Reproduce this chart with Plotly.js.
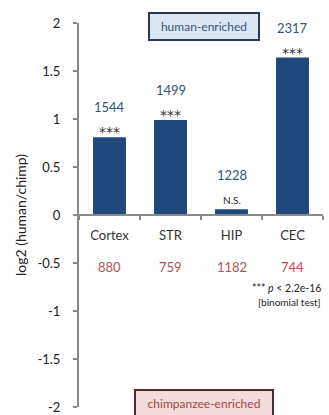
<!DOCTYPE html>
<html><head><meta charset="utf-8">
<script src="https://cdn.plot.ly/plotly-3.0.1.min.js"></script>
<style>html,body{margin:0;padding:0;background:#fff}#chart{width:329px;height:415px}</style>
</head><body><div id="chart"></div>
<script>
const categories = ["Cortex", "STR", "HIP", "CEC"];
const log2Ratio = [0.81, 0.99, 0.06, 1.64];
const humanCounts = [1544, 1499, 1228, 2317];
const chimpCounts = [880, 759, 1182, 744];
const significance = ["***", "***", "N.S.", "***"];
const yTicks = [-2, -1.5, -1, -0.5, 0, 0.5, 1, 1.5, 2];

const FONT = "Lato, 'Open Sans', sans-serif";
const annotations = [];
categories.forEach((c, i) => {
  const ns = significance[i] === 'N.S.';
  annotations.push({x: c, y: log2Ratio[i], xref: 'x', yref: 'y', text: significance[i],
    showarrow: false, yanchor: ns ? 'bottom' : 'middle', yshift: ns ? 1 : 5,
    font: ns ? {family: FONT, size: 10, color: '#222'} : {family: "'DejaVu Sans', sans-serif", size: 14, color: '#333'}});
  annotations.push({x: c, y: log2Ratio[i], xref: 'x', yref: 'y', text: String(humanCounts[i]),
    showarrow: false, yanchor: 'bottom', yshift: ns ? 24 : 20,
    font: {family: FONT, size: 13, color: '#2f5580'}});
  annotations.push({x: c, y: -0.54, xref: 'x', yref: 'y', text: String(chimpCounts[i]),
    showarrow: false, yanchor: 'middle',
    font: {family: FONT, size: 13, color: '#b5504f'}});
});
annotations.push({x: 1, xref: 'paper', y: 0.31, yref: 'paper', xanchor: 'right', yanchor: 'middle',
  text: '*** <i>p</i> < 2.2e-16', showarrow: false, font: {family: FONT, size: 10.5, color: '#222'}});
annotations.push({x: 1.0, xref: 'paper', y: 0.273, yref: 'paper', xanchor: 'right', yanchor: 'middle',
  text: '[binomial test]', showarrow: false, font: {family: FONT, size: 10, color: '#222'}});
annotations.push({x: 0.514, xref: 'paper', y: 0.99, yref: 'paper', xanchor: 'center', yanchor: 'middle',
  text: 'human-enriched', showarrow: false, bgcolor: '#dce6f2', bordercolor: '#2a3a4c', borderwidth: 2,
  borderpad: 4, width: 100, height: 17, font: {family: FONT, size: 12, color: '#3a5478'}});
annotations.push({x: 0.514, xref: 'paper', y: 0.01, yref: 'paper', xanchor: 'center', yanchor: 'middle',
  text: 'chimpanzee-enriched', showarrow: false, bgcolor: '#f2dcdb', bordercolor: '#4b2b2b', borderwidth: 2,
  borderpad: 4, width: 128, height: 17, font: {family: FONT, size: 12, color: '#a5433f'}});

Plotly.newPlot('chart', [{
  type: 'bar', x: categories, y: log2Ratio, width: 0.54,
  marker: {color: '#1f497d'}, hoverinfo: 'none'
}], {
  width: 329, height: 415,
  margin: {l: 79, r: 6, t: 23, b: 8},
  paper_bgcolor: '#fff', plot_bgcolor: '#fff',
  showlegend: false,
  xaxis: {
    type: 'category', range: [-0.5, 3.5], anchor: 'free', position: 0.5,
    showline: true, linecolor: '#8a8a8a', linewidth: 2,
    ticks: 'outside', tickson: 'boundaries', ticklen: 4, tickcolor: '#8a8a8a', tickwidth: 1.5,
    ticklabelstandoff: 8, showgrid: false, zeroline: false,
    tickfont: {family: FONT, size: 13, color: '#333'}
  },
  yaxis: {
    range: [-2, 2], tickvals: yTicks, ticktext: yTicks.map(String),
    showline: true, linecolor: '#8a8a8a', linewidth: 2,
    ticks: 'outside', ticklen: 4, tickcolor: '#8a8a8a', tickwidth: 1.5,
    ticklabelstandoff: 10, showgrid: false, zeroline: false,
    tickfont: {family: FONT, size: 13, color: '#222'},
    title: {text: 'log2 (human/chimp)', standoff: 8, font: {family: FONT, size: 14, color: '#222'}}
  },
  annotations: annotations
}, {displayModeBar: false, staticPlot: true});
</script></body></html>
